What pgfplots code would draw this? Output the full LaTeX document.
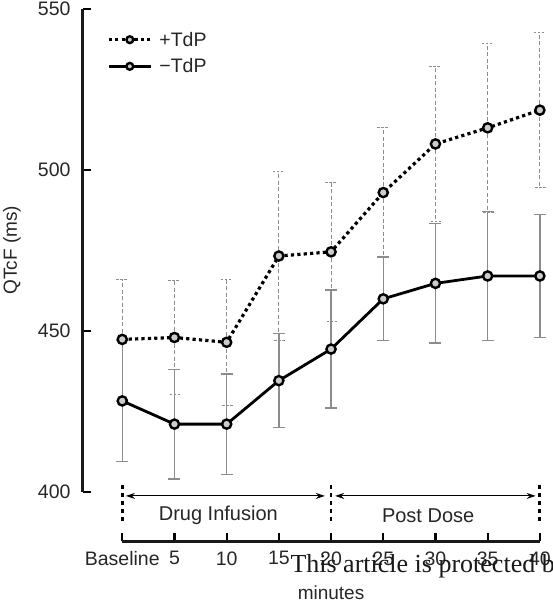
\documentclass[border=0pt]{standalone}
\usepackage{pgfplots}
\pgfplotsset{compat=1.18}
\usepackage{pgfplotstable}
\usetikzlibrary{arrows.meta}
\usepackage{fontspec}
\setmainfont{Liberation Sans}
\newfontfamily\wm{Liberation Serif}

% x  mean  sd
\pgfplotstableread{
x  y      e
0  447.3  18.7
5  447.9  17.8
10 446.4  19.6
15 473.2  26.3
20 474.5  21.5
25 492.9  20.1
30 508.0  24.0
35 513.0  26.2
40 518.5  24.0
}\plusdata
\pgfplotstableread{
x  y      e
0  428.2  18.8
5  421.0  17.0
10 421.0  15.6
15 434.5  14.6
20 444.3  18.3
25 459.9  13.0
30 464.7  18.5
35 467.0  20.0
40 467.0  19.0
}\minusdata

\begin{document}
\begin{tikzpicture}
\begin{axis}[
    scale only axis,
    width=467.3pt, height=532.3pt,
    xmin=-3.76, xmax=41,
    ymin=384.7, ymax=550,
    clip=false,
    axis x line*=bottom, axis y line*=left,
    x axis line style={draw=none}, y axis line style={draw=none},
    tick align=inside,
    major tick length=8pt,
    tick style={black, line width=2.2pt},
    xtick={0,5,...,40},
    xticklabels={Baseline,5,10,15,20,25,30,35,40},
    ytick={400,450,500,550},
    yticklabels={400,450,500,550},
    font=\fontsize{19}{23}\selectfont,
    tick label style={font=\fontsize{19.5}{23}\selectfont, text=black!85},
    yticklabel style={xshift=-9pt},
    xticklabel style={yshift=-7pt},
    legend style={draw=none, fill=none, at={(axis cs:-3.76,550)}, anchor=north west,
        xshift=21pt, yshift=-19pt, font=\fontsize{19.5}{23}\selectfont, row sep=7pt,
        text=black!85, /tikz/every odd column/.append style={column sep=5pt}},
    legend cell align=left,
    legend image code/.code={
        \draw[#1, mark size=3.4pt, mark repeat=2, mark phase=2] plot coordinates {(0pt,0pt) (21pt,0pt) (42pt,0pt)};
    },
    error bars/y dir=both,
    error bars/y explicit,
]
\coordinate (sw) at (rel axis cs:0,0);

\addplot[black, line width=3.2pt, dash pattern=on 3.2pt off 3.2pt,
    mark=*, mark size=4.6pt, mark options={solid, fill=black!20, draw=black, line width=2.4pt},
    error bars/error bar style={black!45, line width=1pt, dash pattern=on 4pt off 2.5pt},
    error bars/error mark options={rotate=90, mark size=6pt, black!45, line width=1pt, dash pattern=on 2.5pt off 1.5pt}]
    table[x=x, y=y, y error=e] {\plusdata};
\addlegendentry{+TdP}

\addplot[black, line width=2.8pt,
    mark=*, mark size=4.6pt, mark options={solid, fill=black!20, draw=black, line width=2.4pt},
    error bars/error bar style={black!45, line width=1.3pt, solid},
    error bars/error mark options={rotate=90, mark size=6pt, black!45, line width=1.3pt, solid}]
    table[x=x, y=y, y error=e] {\minusdata};
\addlegendentry{−TdP}

% axis lines
\draw[black!90, line width=3pt] (axis cs:-3.76,400) -- (axis cs:-3.76,550);
\draw[black!90, line width=3pt] (axis cs:0,384.7) -- (axis cs:40,384.7);

% phase markers
\draw[black, line width=2.8pt, dash pattern=on 4pt off 4pt] (axis cs:0,402.1) -- (axis cs:0,389.7);
\draw[black, line width=2.8pt, dash pattern=on 4pt off 4pt] (axis cs:20,402.1) -- (axis cs:20,389.7);
\draw[black, line width=2.8pt, dash pattern=on 4pt off 4pt] (axis cs:40,402.1) -- (axis cs:40,389.7);
\draw[{Stealth[length=9pt,width=6pt]}-{Stealth[length=9pt,width=6pt]}, line width=1.1pt]
    (axis cs:0.35,398.7) -- (axis cs:19.4,398.7);
\draw[{Stealth[length=9pt,width=6pt]}-{Stealth[length=9pt,width=6pt]}, line width=1.1pt]
    (axis cs:20.4,398.7) -- (axis cs:39.6,398.7);
\node[text=black!85, font=\fontsize{20}{24}\selectfont] at (axis cs:9.2,392.6) {Drug Infusion};
\node[text=black!85, font=\fontsize{20}{24}\selectfont] at (axis cs:29.3,392.6) {Post Dose};

% labels
\node[rotate=90, text=black!85] at ([xshift=-71pt]axis cs:-3.76,475) {QTcF (ms)};
\node[text=black!85] at ([yshift=-52pt]axis cs:20,384.7) {minutes};
\node[anchor=base west, font=\wm\fontsize{26}{30}\selectfont, text=black!90]
    at ([yshift=-31pt]axis cs:15.78,384.7) {This article is protected by copyright. All rights reserved.};
\end{axis}
\pgfresetboundingbox
\path (sw) ++(-83pt,-67pt) rectangle ++(552pt,608pt);
\end{tikzpicture}
\end{document}
